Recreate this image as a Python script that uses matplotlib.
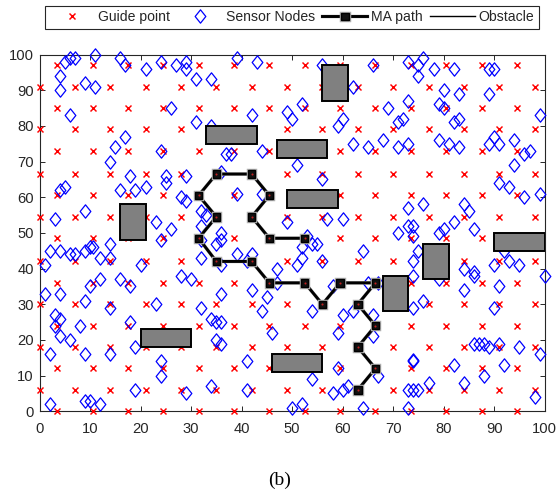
import matplotlib
matplotlib.use("Agg")
import matplotlib.pyplot as plt
import matplotlib.patheffects as pe
from matplotlib.patches import Rectangle
from matplotlib.path import Path

W, H = 558, 495
plt.rcParams['font.family'] = ['Liberation Sans', 'DejaVu Sans']

# Guide points lie on two staggered sets of columns
guide_cols_a = [0, 7, 14, 21, 28, 35, 42, 49, 56, 63, 70, 77, 84, 91, 98]
guide_rows_a = [6, 18, 30, 42, 54.5, 66.5, 79, 91]
guide_cols_b = [3.5, 10.5, 17.5, 24.5, 31.5, 38.5, 45.5, 52.5, 59.5, 66.5, 73.5, 80.5, 87.5, 94.5]
guide_rows_b = [0, 12, 24, 36, 48.5, 60.5, 73, 85, 97]

sensors = [
    (11,100),(6,99),(7,99),(5,98),(16,99),(17,97),(21,96),(24,98),(27,97),(29,98),(29,96),(39,99),(43,98),
    (31,93),(34,93),(4,94),(4,90),(9,92),(11,91),(6,83),(26,85),(31,81),(42,83),(17,77),(15,74),(14,70),
    (24,73),(37,72),(38,72),(44,73),(34,80),(36,67),(18,66),(25,66),(25,64),(29,66),(4,62),(5,63),(16,62),
    (19,62),(21,63),(28,60),(29,59),(39,61),(44,61),(9,56),(3,54),(32,56),(33,55),(23,53),(26,51),(32,52),
    (36,50),(36,48),(35,47),(24,48),(32,48),(14,47),(2,45),(4,45),(6,44),(7,44),(9,45),(10,46),(10.5,46),
    (12,43),(14,43),(1,41),(20,41),(32,43),(36,41),(39,44),(41,42),(42,44),(28,38),(30,37),(12,37),(10,35),
    (16,37),(18,35),(1,33),(4,33),(9,31),(14,29),(23,30),(32,29),(36,33),(42,34),(45,32),(44,28),(47,40),
    (47,36),(3,27),(4,26),(3,24),(8,24),(18,25),(34,26),(35,25),(36,25),(46,22),(4,21),(6,20),(35,20),(36,19),
    (19,18),(2,16),(9,16),(14,16),(24,14),(24,10),(41,14),(19,6),(29,5),(34,7),(41,6),(9,3),(10,3),(12,2),(2,2),
    (56,97),(66,97),(73,98),(75,97),(76,99),(78,96),(75,94),(82,96),(89,96),(90,96),(62,91),(80,90),(83,89),
    (89,89),(73,87),(79,86),(80,85),(52,86),(49,84),(50,82),(69,85),(60,82),(59,80),(72,82),(71,81),(83,82),
    (82,81),(99,83),(90,77),(68,76),(62,75),(65,74),(71,74),(73,75),(79,76),(81,75),(83,74),(89,75),(91,75),
    (94,76),(97,73),(96,72),(94,69),(51,69),(56,65),(91,64),(93,63),(96,60),(99,61),(73,57),(76,58),(84,58),
    (85,56),(49,53),(57,54),(60,54),(71,50),(73,52),(74,52),(74,49),(79,50),(80,51),(82,53),(86,51),(53,49),
    (54,47),(55,47),(52,46),(64,45),(75,45),(92,45),(52,43),(51,41),(56,42),(74,42),(74,38),(65,36),(58,35),
    (67,36),(84,40),(86,39),(86,38),(90,41),(93,42),(95,41),(100,38),(91,35),(84,34),(76,31),(74,29),(90,29),
    (54,28),(60,27),(62,28),(66,27),(59,22),(66,21),(86,19),(87,19),(88,19),(89,18),(91,19),(95,18),(99,16),
    (74,14),(74,14.4),(82,13),(92,13),(59,12),(67,10),(54,9),(77,8),(84,8),(88,10),(61,7),(60,6),(58,5),(73,6),
    (74,6),(75,6),(98,4),(52,2),(50,1),(64,1),(73,1),(79,37),
]
sensor_x = [p[0] for p in sensors]
sensor_y = [p[1] for p in sensors]

path_x = [63, 66.5, 63, 66.5, 63, 66.5, 59.5, 56, 52.5, 45.5, 42, 35, 31.5, 35, 31.5, 35, 42, 45.5, 42, 45.5, 52.5]
path_y = [6, 12, 18, 24, 30, 36, 36, 30, 36, 36, 42, 42, 48.5, 54.5, 60.5, 66.5, 66.5, 60.5, 54.5, 48.5, 48.5]

# x, y, width, height
obstacles = [
    (16, 48, 5, 10), (33, 75, 10, 5), (47, 71, 10, 5), (56, 87, 5, 10), (49, 57, 10, 5),
    (76, 37, 5, 10), (90, 45, 10, 5), (68, 28, 5, 10), (20, 18, 10, 5), (46, 11, 10, 5),
]
ticks = [0, 10, 20, 30, 40, 50, 60, 70, 80, 90, 100]
labels = ['Guide point', 'Sensor Nodes', 'MA path', 'Obstacle']

DARK = '#262626'
diamond = Path([(0, -1), (0.8, 0), (0, 1), (-0.8, 0), (0, -1)], closed=True)
halo = [pe.withStroke(linewidth=2.5, foreground='#b0b0b0')]

fig = plt.figure(figsize=(W / 100, H / 100), dpi=100)
ax = fig.add_axes([39.5 / W, 1 - 411.3 / H, 505.2 / W, 356.8 / H])

gx = [c for c in guide_cols_a for r in guide_rows_a] + [c for c in guide_cols_b for r in guide_rows_b]
gy = [r for c in guide_cols_a for r in guide_rows_a] + [r for c in guide_cols_b for r in guide_rows_b]
guide, = ax.plot(gx, gy, ls='none', marker='x', color='#ff0000', ms=5.0, mew=1.05, clip_on=False, zorder=3, label=labels[0])
sens, = ax.plot(sensor_x, sensor_y, ls='none', marker=diamond, mfc='none', mec='#0000ff', ms=9.6, mew=0.9,
                clip_on=False, zorder=4, label=labels[1])
for (x, y, w, h) in obstacles:
    ax.add_patch(Rectangle((x, y), w, h, fc='#808080', ec='black', lw=1.4, zorder=5))
mapath, = ax.plot(path_x, path_y, color='black', lw=2.1, marker='s', ms=5.4, mfc='#111111', mec='black', mew=1.0,
                  zorder=6, label=labels[2], path_effects=halo)
ax.plot(path_x, path_y, ls='none', marker='o', ms=1.5, mew=0, color='#c02020', zorder=7)
obst, = ax.plot([], [], color='black', lw=1.0, label=labels[3])

ax.set_xlim(0, 100)
ax.set_ylim(0, 100)
ax.set_xticks(ticks)
ax.set_yticks(ticks)
ax.tick_params(direction='in', top=True, right=True, length=3.6, width=0.7, color=DARK, labelcolor=DARK,
               labelsize=10.6)
ax.tick_params(axis='x', pad=7.5)
ax.tick_params(axis='y', pad=4.2)
for s in ax.spines.values():
    s.set_linewidth(0.8)
    s.set_color(DARK)

leg = ax.legend(handles=[guide, sens, mapath, obst], loc='center', bbox_to_anchor=(292 / W, 1 - 17.3 / H),
                bbox_transform=fig.transFigure, ncol=4, fontsize=10.1, numpoints=1, handlelength=3.2,
                handletextpad=0.28, columnspacing=0.5, borderpad=0.34, borderaxespad=0, fancybox=False,
                framealpha=1, edgecolor=DARK, labelcolor=DARK)
leg.get_frame().set_linewidth(0.8)

fig.text(280 / W, 1 - 480 / H, '(b)', family='Liberation Serif', fontsize=14, ha='center', va='center', color='black')
fig.savefig('out.png', dpi=100)
